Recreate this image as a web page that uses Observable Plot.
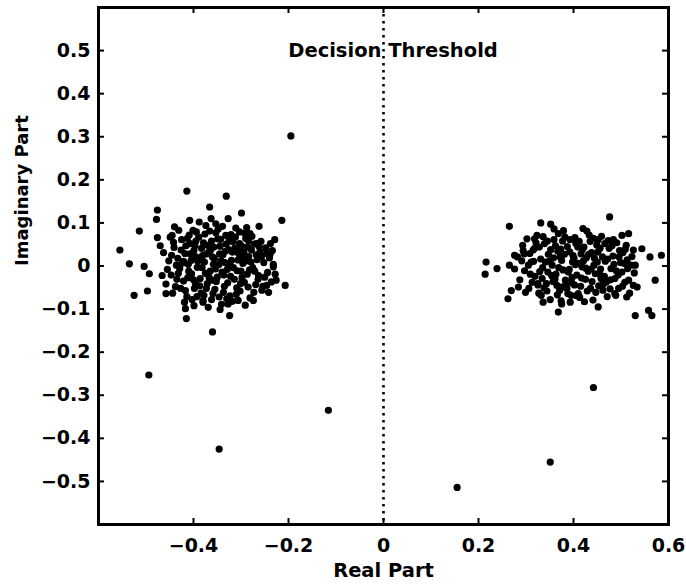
<!DOCTYPE html>
<html>
<head>
<meta charset="utf-8">
<script src="https://cdn.jsdelivr.net/npm/d3@7"></script>
<script src="https://cdn.jsdelivr.net/npm/@observablehq/plot@0.6"></script>
<style>
  html, body { margin: 0; padding: 0; background: #fff; }
</style>
</head>
<body>
<div id="chart"></div>
<script>
// Tick values
const xTicks = [-0.4, -0.2, 0, 0.2, 0.4, 0.6];
const yTicks = [-0.5, -0.4, -0.3, -0.2, -0.1, 0, 0.1, 0.2, 0.3, 0.4, 0.5];
const xTickLabels = ["−0.4", "−0.2", "0", "0.2", "0.4", "0.6"];
const yTickLabels = ["−0.5", "−0.4", "−0.3", "−0.2", "−0.1", "0", "0.1", "0.2", "0.3", "0.4", "0.5"];

// Received symbols near -0.35 (left cluster) as [real, imaginary]
const leftCluster = [
  [-0.414,0.174],[-0.331,0.162],[-0.476,0.130],[-0.366,0.137],[-0.478,0.108],[-0.363,0.110],
  [-0.327,0.110],[-0.299,0.123],[-0.214,0.106],[-0.514,0.081],[-0.555,0.037],[-0.535,0.005],
  [-0.476,0.066],[-0.445,0.071],[-0.408,0.106],[-0.262,0.092],[-0.281,0.075],[-0.229,0.061],
  [-0.267,0.052],[-0.239,0.027],[-0.504,-0.001],[-0.493,-0.018],[-0.525,-0.068],[-0.497,-0.058],
  [-0.207,-0.045],[-0.226,-0.033],[-0.417,-0.099],[-0.415,-0.122],[-0.324,-0.115],[-0.360,-0.153],
  [-0.306,-0.080],[-0.274,-0.080],[-0.380,-0.080],[-0.458,-0.064],[-0.246,-0.045],[-0.232,-0.002],
  [-0.452,0.012],[-0.447,-0.021],[-0.441,0.043],[-0.438,-0.048],[-0.433,0.018],[-0.429,-0.006],
  [-0.425,0.061],[-0.421,-0.035],[-0.418,0.029],[-0.414,-0.071],[-0.411,0.004],[-0.407,0.052],
  [-0.404,-0.018],[-0.401,0.083],[-0.398,-0.052],[-0.395,0.021],[-0.392,-0.003],[-0.389,0.067],
  [-0.386,-0.029],[-0.383,0.041],[-0.380,-0.084],[-0.377,0.009],[-0.374,0.094],[-0.371,-0.041],
  [-0.368,0.032],[-0.365,-0.012],[-0.362,0.058],[-0.359,-0.064],[-0.356,0.017],[-0.353,0.077],
  [-0.350,-0.026],[-0.347,0.003],[-0.344,0.046],[-0.341,-0.089],[-0.338,0.026],[-0.335,-0.047],
  [-0.332,0.071],[-0.329,-0.008],[-0.326,0.038],[-0.323,-0.069],[-0.320,0.013],[-0.317,0.056],
  [-0.314,-0.031],[-0.311,0.088],[-0.308,-0.011],[-0.305,0.029],[-0.302,-0.058],[-0.299,0.047],
  [-0.296,0.006],[-0.293,-0.038],[-0.290,0.064],[-0.287,-0.019],[-0.284,0.022],[-0.281,-0.074],
  [-0.278,0.037],[-0.275,-0.004],[-0.272,0.051],[-0.269,-0.043],[-0.266,0.015],[-0.263,-0.022],
  [-0.260,0.033],[-0.256,-0.056],[-0.252,0.008],[-0.248,0.042],[-0.244,-0.015],[-0.240,0.019],
  [-0.236,-0.037],[-0.232,0.004],[-0.463,0.031],[-0.458,-0.042],[-0.449,0.067],[-0.444,-0.063],
  [-0.436,0.002],[-0.431,0.083],[-0.427,-0.052],[-0.423,0.007],[-0.416,0.047],[-0.412,-0.027],
  [-0.409,0.072],[-0.403,-0.078],[-0.399,0.036],[-0.396,-0.041],[-0.391,0.011],[-0.388,0.102],
  [-0.384,-0.063],[-0.379,0.054],[-0.375,-0.017],[-0.372,0.028],[-0.369,-0.096],[-0.366,0.081],
  [-0.361,-0.033],[-0.357,0.044],[-0.354,-0.007],[-0.349,0.063],[-0.346,-0.072],[-0.342,0.012],
  [-0.339,0.092],[-0.336,-0.021],[-0.331,0.051],[-0.328,-0.039],[-0.324,0.003],[-0.321,0.073],
  [-0.318,-0.082],[-0.313,0.041],[-0.309,-0.051],[-0.306,0.014],[-0.303,0.079],[-0.298,-0.027],
  [-0.294,0.032],[-0.291,-0.091],[-0.286,0.044],[-0.282,-0.009],[-0.277,0.069],[-0.273,-0.061],
  [-0.268,0.026],[-0.264,-0.031],[-0.258,0.057],[-0.254,-0.047],[-0.246,0.029],[-0.242,-0.061],
  [-0.238,0.052],[-0.228,-0.019],[-0.410,-0.012],[-0.397,0.047],[-0.385,0.016],[-0.373,-0.052],
  [-0.364,0.037],[-0.352,-0.036],[-0.343,0.062],[-0.334,0.008],[-0.322,-0.024],[-0.312,0.067],
  [-0.301,-0.041],[-0.289,0.012],[-0.382,-0.004],[-0.358,0.004],[-0.337,-0.061],[-0.318,0.032],
  [-0.407,0.028],[-0.393,-0.071],[-0.376,0.074],[-0.345,0.028],[-0.327,-0.088],[-0.303,0.052],
  [-0.284,0.058],[-0.362,-0.078],[-0.421,0.011],[-0.435,-0.031],[-0.446,0.025],[-0.417,-0.057],
  [-0.455,-0.008],[-0.442,0.055],[-0.432,-0.017],[-0.426,0.037],[-0.419,-0.084],[-0.413,0.064],
  [-0.405,0.013],[-0.400,-0.032],[-0.394,0.079],[-0.387,-0.046],[-0.381,0.024],[-0.378,-0.068],
  [-0.370,0.048],[-0.367,-0.027],[-0.360,0.021],[-0.355,-0.054],[-0.348,0.086],[-0.340,-0.014],
  [-0.333,0.034],[-0.330,-0.076],[-0.325,0.059],[-0.316,-0.004],[-0.310,-0.066],[-0.304,0.037],
  [-0.297,0.019],[-0.292,0.076],[-0.285,-0.049],[-0.279,0.009],[-0.271,-0.012],[-0.262,0.045],
  [-0.257,0.021],[-0.250,-0.026],[-0.440,0.091],[-0.395,0.058],[-0.353,0.098],[-0.300,-0.012],
  [-0.399,-0.092],[-0.344,-0.101],[-0.288,0.089],[-0.466,-0.022],[-0.470,0.047],[-0.234,0.036]
];

// Received symbols near +0.4 (right cluster)
const rightCluster = [
  [0.265,0.092],[0.331,0.100],[0.352,0.097],[0.476,0.114],[0.216,0.009],[0.214,-0.019],
  [0.239,-0.006],[0.265,0.002],[0.269,-0.057],[0.262,-0.076],[0.332,-0.068],[0.336,-0.084],
  [0.368,-0.107],[0.375,-0.088],[0.452,-0.095],[0.512,-0.072],[0.530,-0.115],[0.558,-0.103],
  [0.565,-0.115],[0.572,-0.033],[0.530,0.002],[0.526,-0.045],[0.561,0.021],[0.544,0.040],
  [0.516,0.075],[0.502,0.071],[0.420,0.087],[0.294,0.036],[0.276,0.025],[0.318,0.063],
  [0.368,0.075],[0.325,-0.041],[0.410,-0.064],[0.487,-0.064],[0.375,-0.049],[0.585,0.025],
  [0.282,0.021],[0.287,-0.032],[0.293,0.048],[0.297,-0.011],[0.302,0.063],[0.306,-0.052],
  [0.311,0.009],[0.315,0.037],[0.319,-0.024],[0.323,0.071],[0.327,-0.063],[0.331,0.016],
  [0.335,-0.004],[0.339,0.052],[0.343,-0.041],[0.347,0.027],[0.351,-0.078],[0.355,0.002],
  [0.359,0.061],[0.363,-0.019],[0.367,0.034],[0.371,-0.056],[0.375,0.013],[0.379,0.082],
  [0.383,-0.033],[0.387,0.045],[0.391,-0.008],[0.395,-0.068],[0.399,0.024],[0.403,0.066],
  [0.407,-0.021],[0.411,0.006],[0.415,-0.047],[0.419,0.039],[0.423,-0.083],[0.427,0.019],
  [0.431,-0.012],[0.435,0.057],[0.439,-0.036],[0.443,0.002],[0.447,-0.061],[0.451,0.032],
  [0.455,-0.018],[0.459,0.069],[0.463,-0.042],[0.467,0.011],[0.471,-0.071],[0.475,0.041],
  [0.479,-0.006],[0.483,0.023],[0.487,-0.029],[0.491,0.054],[0.495,-0.052],[0.499,0.008],
  [0.504,0.031],[0.508,-0.038],[0.513,0.014],[0.518,-0.063],[0.523,0.022],[0.528,-0.016],
  [0.276,-0.007],[0.291,0.012],[0.299,-0.061],[0.308,0.029],[0.313,-0.038],[0.321,0.054],
  [0.329,-0.013],[0.336,0.068],[0.344,-0.058],[0.349,0.011],[0.357,-0.036],[0.362,0.047],
  [0.369,-0.004],[0.374,-0.081],[0.381,0.027],[0.386,-0.052],[0.393,0.061],[0.397,-0.027],
  [0.404,0.003],[0.409,0.044],[0.413,-0.073],[0.421,0.012],[0.425,-0.031],[0.433,0.072],
  [0.437,-0.007],[0.441,-0.079],[0.449,0.049],[0.453,-0.046],[0.461,0.021],[0.465,-0.024],
  [0.473,0.059],[0.477,-0.053],[0.485,0.004],[0.489,-0.068],[0.497,0.036],[0.502,-0.014],
  [0.511,0.048],[0.516,-0.033],[0.526,0.037],[0.534,-0.049],[0.305,0.002],[0.318,0.041],
  [0.334,-0.029],[0.352,0.038],[0.366,-0.067],[0.377,0.058],[0.389,-0.014],[0.402,-0.044],
  [0.416,0.028],[0.429,-0.058],[0.444,0.018],[0.457,-0.007],[0.469,-0.037],[0.481,0.047],
  [0.494,-0.021],[0.507,0.006],[0.341,0.009],[0.372,0.021],[0.398,0.009],[0.418,-0.002],
  [0.438,0.031],[0.458,-0.029],[0.384,-0.042],[0.405,0.052],[0.325,-0.044],[0.361,-0.031],
  [0.452,0.061],[0.521,0.002],
  [0.284,-0.049],[0.296,0.028],[0.309,-0.019],[0.316,0.011],[0.328,0.044],[0.338,-0.051],
  [0.345,0.058],[0.354,-0.022],[0.358,0.019],[0.365,-0.045],[0.373,0.039],[0.378,-0.009],
  [0.382,0.067],[0.388,-0.064],[0.392,0.033],[0.396,-0.039],[0.401,0.018],[0.406,-0.069],
  [0.412,0.057],[0.417,-0.028],[0.422,0.044],[0.426,-0.005],[0.432,0.027],[0.436,-0.052],
  [0.442,0.064],[0.446,-0.018],[0.450,0.009],[0.456,0.041],[0.462,-0.056],[0.466,0.052],
  [0.472,0.016],[0.478,-0.032],[0.484,0.061],[0.490,-0.011],[0.496,0.021],[0.503,-0.047],
  [0.509,0.039],[0.514,-0.006],[0.359,0.086],[0.428,0.081],[0.393,-0.084],[0.346,-0.014]
];

// Outlying symbols
const outliers = [
  [-0.195,0.302],[-0.494,-0.253],[-0.116,-0.335],[-0.346,-0.425],
  [0.155,-0.514],[0.351,-0.455],[0.442,-0.282]
];

const threshold = [0];
const annotations = [{label: "Decision Threshold", x: 0.02, y: 0.5}];
const xLabel = "Real Part";
const yLabel = "Imaginary Part";

const points = [...leftCluster, ...rightCluster, ...outliers].map(([re, im]) => ({re, im}));

const W = 686, H = 587;
const mT = 7, mB = 63, mL = 98, mR = 18;
const pw = W - mL - mR, ph = H - mT - mB;
const tick = 6;

const chart = Plot.plot({
  width: W,
  height: H,
  marginTop: mT,
  marginBottom: mB,
  marginLeft: mL,
  marginRight: mR,
  style: {fontFamily: "DejaVu Sans", fontSize: "19px", fontWeight: "bold", background: "#fff", color: "#000"},
  x: {domain: [-0.6, 0.6]},
  y: {domain: [-0.6, 0.6]},
  marks: [
    Plot.ruleX(threshold, {x: d => d, stroke: "#000", strokeWidth: 2.6, strokeDasharray: "2.5,4.5"}),
    Plot.dot(points, {x: "re", y: "im", r: 3.6, fill: "#000", stroke: "none"}),
    Plot.text(annotations, {x: "x", y: "y", text: "label", fontSize: 19.5, fontWeight: "bold", fill: "#000", textAnchor: "middle"}),
    // inward ticks
    Plot.tickX(xTicks, {x: d => d, insetTop: ph - tick, stroke: "#000", strokeWidth: 2}),
    Plot.tickX(xTicks, {x: d => d, insetBottom: ph - tick, stroke: "#000", strokeWidth: 2}),
    Plot.tickY(yTicks, {y: d => d, insetRight: pw - tick, stroke: "#000", strokeWidth: 2}),
    Plot.tickY(yTicks, {y: d => d, insetLeft: pw - tick, stroke: "#000", strokeWidth: 2}),
    Plot.axisX({ticks: xTicks, tickSize: 0, tickPadding: 14, tickFormat: (d, i) => xTickLabels[i], label: null}),
    Plot.axisY({ticks: yTicks, tickSize: 0, tickPadding: 8, tickFormat: (d, i) => yTickLabels[i], label: null}),
    Plot.text([xLabel], {frameAnchor: "bottom", dy: 52, fontSize: 19.5, fontWeight: "bold", fill: "#000"}),
    Plot.text([yLabel], {frameAnchor: "left", dx: -76, rotate: -90, fontSize: 18, fontWeight: "bold", fill: "#000"}),
    Plot.frame({stroke: "#000", strokeWidth: 3})
  ]
});

document.getElementById("chart").appendChild(chart);
</script>
</body>
</html>
